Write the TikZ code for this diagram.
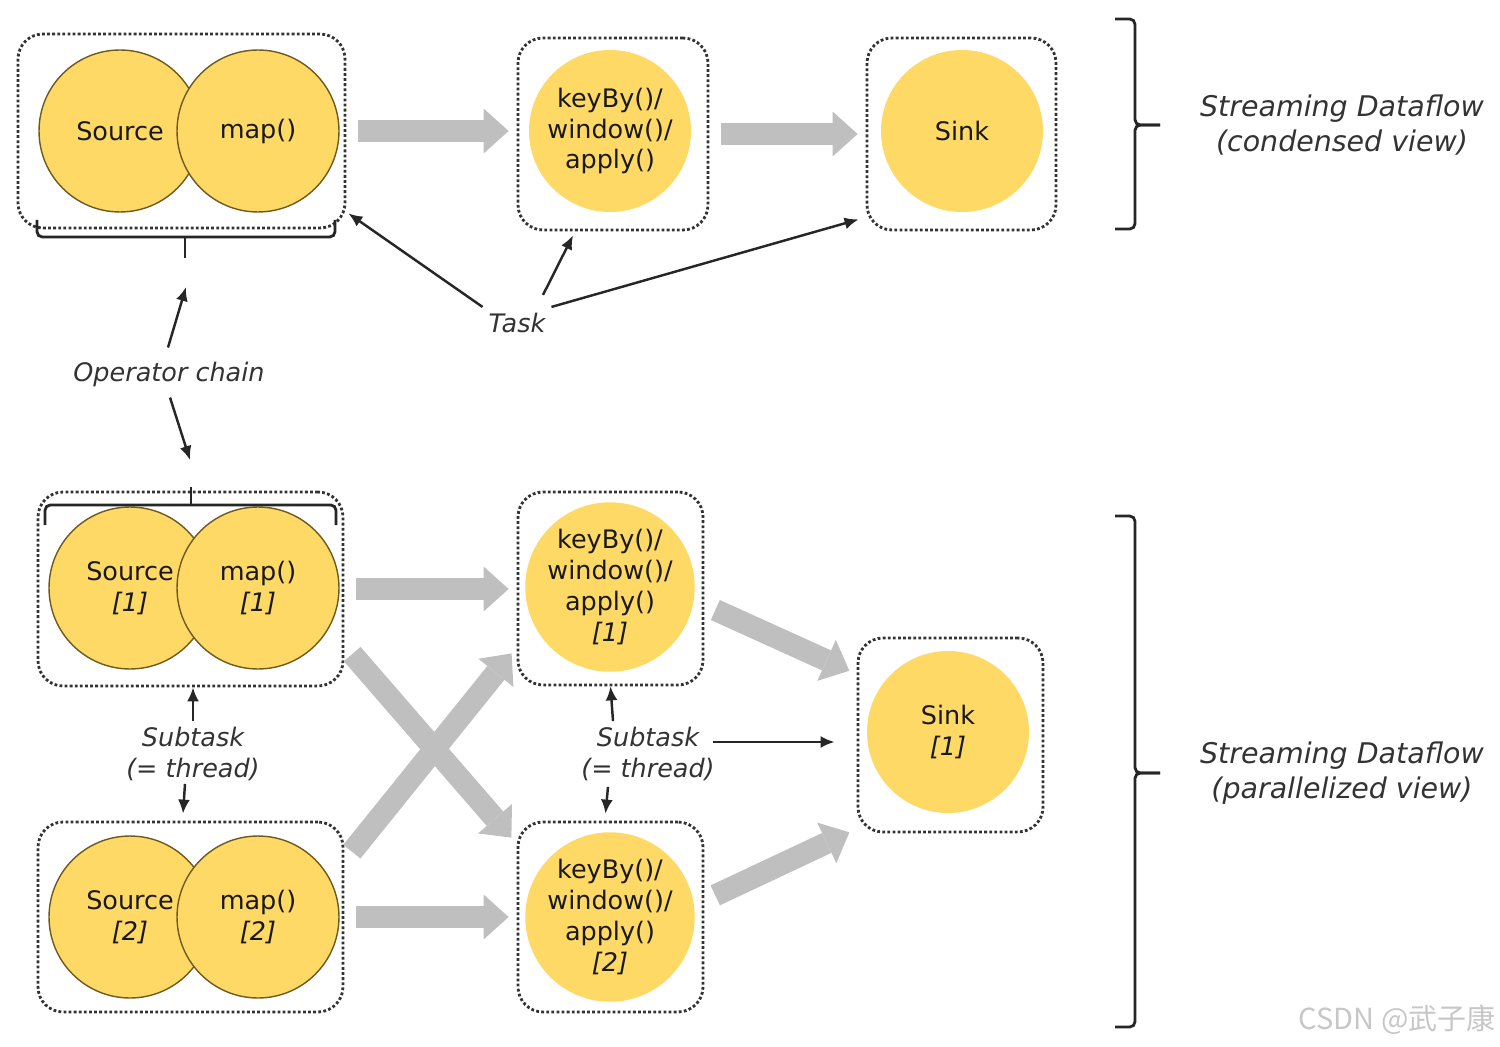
\documentclass[tikz,border=0pt]{standalone}
\usepackage{fontspec}
\setmainfont{DejaVu Sans}
\newfontfamily\cjk{Noto Sans CJK SC}
\usetikzlibrary{arrows.meta, calc}

\definecolor{opyellow}{HTML}{FFD966}
\definecolor{opedge}{HTML}{6E5A20}
\definecolor{flowgray}{HTML}{BFBFBF}
\definecolor{boxline}{HTML}{333333}
\definecolor{labeltext}{HTML}{333333}

\begin{document}
\begin{tikzpicture}[x=0.02cm, y=-0.02cm,
  every node/.style={font=\fontsize{14.5}{17.5}\selectfont, align=center},
  op/.style={circle, fill=opyellow, draw=opedge, line width=0.8pt, minimum size=3.24cm, inner sep=0pt, text=black!90},
  opplain/.style={op, draw=none},
  taskbox/.style={draw=boxline, line width=1.6pt, dash pattern=on 1.6pt off 1.3pt, rounded corners=0.5cm, inner sep=0pt},
  flow/.style={draw=flowgray, line width=12.5pt, -{Triangle[length=0.5cm, width=0.9cm, line width=0pt]}, shorten <=0.24cm, shorten >=0.16cm},
  pointer/.style={draw=black!85, line width=1.4pt, -{Latex[length=0.28cm, width=0.24cm]}},
  bracket/.style={draw=black!85, line width=1.6pt, rounded corners=3pt},
  note/.style={font=\fontsize{14.5}{17.5}\selectfont\itshape, text=labeltext},
  viewnote/.style={font=\fontsize{16.2}{20}\selectfont\itshape, text=labeltext}]

  \useasboundingbox (0,0) rectangle (1500,1047);

  % Top row (condensed view)
  \node[taskbox, minimum width=6.54cm, minimum height=3.88cm] (chainA) at (181.5,131) {};
  \node[taskbox, minimum width=3.8cm, minimum height=3.84cm] (keyBoxA) at (613,134) {};
  \node[taskbox, minimum width=3.78cm, minimum height=3.84cm] (sinkBoxA) at (961.5,134) {};
  \node[op] (srcA) at (120,131) {Source};
  \node[op] (mapA) at (258,131) {map()};
  \node[opplain] (keyA) at (610,131) {keyBy()/\\window()/\\apply()};
  \node[opplain] (sinkA) at (962,131) {Sink};
  \draw[flow] (chainA.east) -- (chainA.east -| keyBoxA.west);
  \draw[flow] (keyBoxA.east) -- (keyBoxA.east -| sinkBoxA.west);

  % Bottom rows (parallelized view)
  \node[taskbox, minimum width=6.1cm, minimum height=3.88cm] (chainB1) at (190.5,589) {};
  \node[taskbox, minimum width=6.1cm, minimum height=3.8cm] (chainB2) at (190.5,917) {};
  \node[taskbox, minimum width=3.7cm, minimum height=3.86cm] (keyBoxB1) at (610.5,588.5) {};
  \node[taskbox, minimum width=3.7cm, minimum height=3.8cm] (keyBoxB2) at (610.5,917) {};
  \node[taskbox, minimum width=3.7cm, minimum height=3.88cm] (sinkBoxB) at (950.5,735) {};
  \node[op] (srcB1) at (130,588) {Source\\\textit{[1]}};
  \node[op] (mapB1) at (258,588) {map()\\\textit{[1]}};
  \node[op] (srcB2) at (130,917) {Source\\\textit{[2]}};
  \node[op] (mapB2) at (258,917) {map()\\\textit{[2]}};
  \node[opplain] (keyB1) at (610,587) {keyBy()/\\window()/\\apply()\\\textit{[1]}};
  \node[opplain] (keyB2) at (610,917) {keyBy()/\\window()/\\apply()\\\textit{[2]}};
  \node[opplain] (sinkB) at (948,732) {Sink\\\textit{[1]}};
  \draw[flow] (chainB1.east) -- (chainB1.east -| keyBoxB1.west);
  \draw[flow] (chainB2.east) -- (chainB2.east -| keyBoxB2.west);
  \draw[flow] (chainB1.-20) -- (keyBoxB2.142);
  \draw[flow] (chainB2.20) -- (keyBoxB1.-148);
  \draw[flow] (keyBoxB1.-10) -- (sinkBoxB.147);
  \draw[flow] (keyBoxB2.10) -- (sinkBoxB.-135);

  % Braces
  \coordinate (chainTipA) at (185,258);
  \coordinate (chainTipB) at (191,487);
  \draw[bracket] (37,220) |- (185,237) -| (335,220);
  \draw[bracket] (185,237) -- (chainTipA);
  \draw[bracket] (45,525) |- (191,505) -| (336,525);
  \draw[bracket] (191,505) -- (chainTipB);
  \draw[bracket] (1115,19) -| (1135,125) -- (1160,125);
  \draw[bracket] (1160,125) -- (1135,125) |- (1115,229);
  \draw[bracket] (1115,516) -| (1135,773) -- (1160,773);
  \draw[bracket] (1160,773) -- (1135,773) |- (1115,1027);

  % Labels
  \node[note] (task) at (517,323) {Task};
  \node[note] (opchain) at (169,374) {Operator chain};
  \node[note] (subA) at (193,754) {Subtask\\(= thread)};
  \node[note] (subB) at (648,754) {Subtask\\(= thread)};
  \node[viewnote] (viewA) at (1342,125) {Streaming Dataflow\\(condensed view)};
  \node[viewnote] (viewB) at (1342,773) {Streaming Dataflow\\(parallelized view)};
  \node[font=\cjk\fontsize{16.5}{20}\selectfont, text=black!22] (watermark) at (1397,1020) {CSDN @武子康};

  % Pointers
  \draw[pointer] (task.north west) -- ($(chainA.south east)+(2,-16)$);
  \draw[pointer] ($(task.north)+(26,-12)$) -- ($(keyBoxA.south)+(-40,4)$);
  \draw[pointer] (task.north east) -- ($(sinkBoxA.south west)+(-7,-12)$);
  \draw[pointer] ($(opchain.north)+(-1,-8)$) -- ($(chainTipA)+(1,29)$);
  \draw[pointer] ($(opchain.south)+(1,5)$) -- ($(chainTipB)+(-1,-27)$);
  \draw[pointer] (subA.north) -- (subA.north |- chainB1.south);
  \draw[pointer] ($(subA.south)+(-8,-3)$) -- ($(subA.south |- chainB2.north)+(-10,-7)$);
  \draw[pointer] ($(subB.north)+(-35,0)$) -- (keyBoxB1.south);
  \draw[pointer] ($(subB.south)+(-40,0)$) -- ($(keyBoxB2.north)+(-5,-7)$);
  \coordinate (subOut) at ($(subB.east)+(-8,-12)$);
  \draw[pointer] (subOut) -- ($(subOut -| sinkBoxB.west)+(-22,0)$);
\end{tikzpicture}
\end{document}
